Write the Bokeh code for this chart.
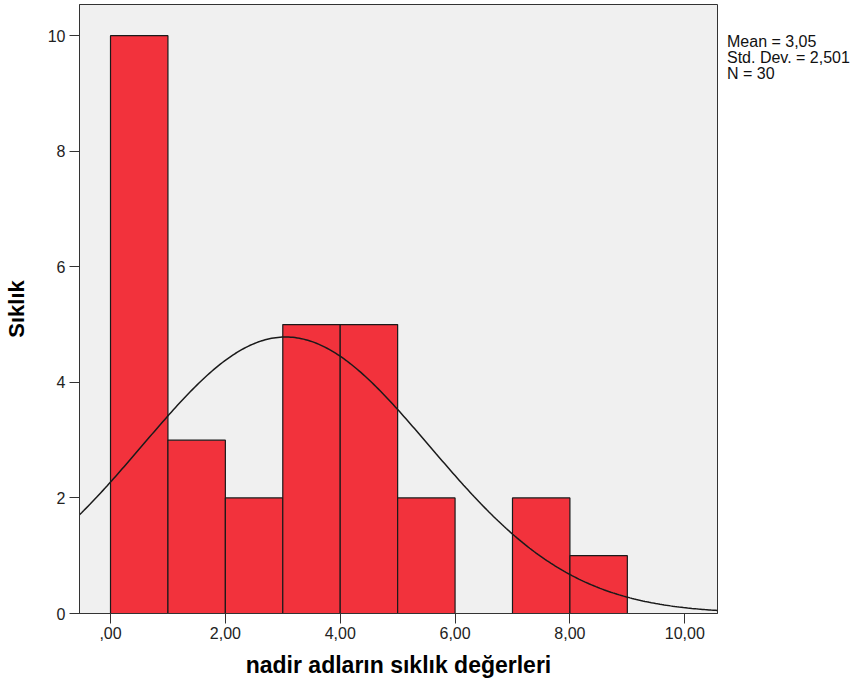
import numpy as np
from bokeh.plotting import figure
from bokeh.models import Range1d, FixedTicker, Div
from bokeh.layouts import row
from bokeh.embed import file_html
from bokeh.resources import INLINE

# Histogram data
bin_left = [0, 1, 2, 3, 4, 5, 6, 7, 8]
bin_right = [1, 2, 3, 4, 5, 6, 7, 8, 9]
counts = [10, 3, 2, 5, 5, 2, 0, 2, 1]
mean_val = 3.05
std_val = 2.501
n_val = 30
x_ticks = [0, 2, 4, 6, 8, 10]
x_tick_labels = [",00", "2,00", "4,00", "6,00", "8,00", "10,00"]
y_ticks = [0, 2, 4, 6, 8, 10]
stats_lines = ["Mean = 3,05", "Std. Dev. = 2,501", "N = 30"]

FONT = "Liberation Sans"

p = figure(width=720, height=688, output_backend="svg", toolbar_location=None,
           x_range=Range1d(-0.54, 10.57), y_range=Range1d(0, 10.54),
           min_border_left=78, min_border_right=3, min_border_top=4, min_border_bottom=75)

p.background_fill_color = "#F0F0F0"
p.border_fill_color = "white"
p.outline_line_color = "#333333"
p.outline_line_width = 1
p.xgrid.visible = False
p.ygrid.visible = False

bars = [(l, r, c) for l, r, c in zip(bin_left, bin_right, counts) if c > 0]
p.quad(left=[b[0] for b in bars], right=[b[1] for b in bars], bottom=0,
       top=[b[2] for b in bars], fill_color="#F2323C", line_color="#1a1a1a", line_width=1.2)

# normal curve fitted from the reported statistics
xs = np.linspace(-0.54, 10.57, 300)
ys = n_val * 1.0 / (std_val * np.sqrt(2 * np.pi)) * np.exp(-0.5 * ((xs - mean_val) / std_val) ** 2)
p.line(xs, ys, line_color="#1a1a1a", line_width=1.5)

# axes
p.xaxis.ticker = FixedTicker(ticks=x_ticks)
p.xaxis.major_label_overrides = {t: l for t, l in zip(x_ticks, x_tick_labels)}
p.yaxis.ticker = FixedTicker(ticks=y_ticks)
p.yaxis.major_label_overrides = {t: str(t) for t in y_ticks}
for ax in (p.xaxis, p.yaxis):
    ax.minor_tick_line_color = None
    ax.major_tick_in = 0
    ax.major_tick_out = 10
    ax.major_tick_line_color = "#333333"
    ax.axis_line_color = "#333333"
    ax.major_label_text_font = FONT
    ax.major_label_text_font_size = "16px"
    ax.major_label_text_color = "#222222"
    ax.axis_label_text_font = FONT
    ax.axis_label_text_font_style = "bold"
    ax.axis_label_text_color = "black"

p.xaxis.axis_label = "nadir adların sıklık değerleri"
p.xaxis.axis_label_text_font_size = "23px"
p.xaxis.major_label_standoff = 3
p.xaxis.axis_label_standoff = 10
p.yaxis.axis_label = "Sıklık"
p.yaxis.axis_label_text_font_size = "22px"
p.yaxis.major_label_standoff = 4
p.yaxis.axis_label_standoff = 16

stats = Div(text="<br>".join(stats_lines), width=134, height=100, margin=(34, 0, 0, 7),
            styles={"font-family": FONT, "font-size": "16px", "line-height": "16px",
                    "color": "#111111", "white-space": "nowrap"})

layout = row(p, stats)
open("out.html", "w").write(file_html(layout, INLINE))
